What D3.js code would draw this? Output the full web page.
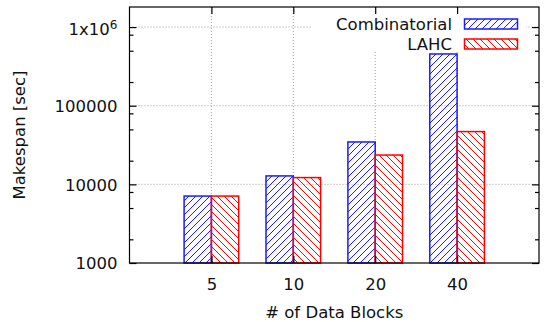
<!DOCTYPE html>
<html>
<head>
<meta charset="utf-8">
<script src="https://cdn.jsdelivr.net/npm/d3@7"></script>
<style>
body{margin:0;background:#fff}
text{font-family:"DejaVu Sans",sans-serif}
</style>
</head>
<body>
<script>
var blocks=["5","10","20","40"]
var combinatorial=[7100,12800,34600,455000]
var lahc=[7100,12200,23600,46900]
var seriesNames=["Combinatorial","LAHC"]
var yTicks=[1000,10000,100000,1000000]
var yLabels=["1000","10000","100000","1x10"]
var yMinor=[2000,5000,8000,20000,50000,80000,200000,500000,800000]

var drawChart=function(){
  var screen={width:544,height:322}
  var plot={left:129.5,right:539,top:7,bottom:263}
  var fontSize=16.5

  var svg=d3.select("body").append("svg")
    .attr('width',screen.width)
    .attr('height',screen.height)

  var xScale=d3.scaleLinear()
    .domain([-1,blocks.length])
    .range([plot.left,plot.right])
  var yScale=d3.scaleLog()
    .domain([1000,1.8e6])
    .range([plot.bottom,plot.top])

  // hatch patterns like gnuplot fill pattern
  var defs=svg.append("defs")
  var colors=["#1a1aff","#ff0000"]
  var paths=["M0,7 L7,0 M-1,1 L1,-1 M6,8 L8,6","M0,0 L7,7 M-1,6 L1,8 M6,-1 L8,1"]
  colors.forEach(function(c,i){
    defs.append("pattern")
      .attr('id','hatch'+i)
      .attr('patternUnits','userSpaceOnUse')
      .attr('width',7).attr('height',7)
      .append("path")
      .attr('d',paths[i])
      .style('stroke',c)
      .style('stroke-width',1)
      .style('fill','none')
  })

  // grid
  var grid=svg.append("g")
  grid.selectAll("line.h").data(yTicks.slice(1)).enter().append("line")
    .attr('x1',plot.left).attr('x2',plot.right)
    .attr('y1',function(d){return yScale(d)})
    .attr('y2',function(d){return yScale(d)})
  grid.selectAll("line.v").data(blocks).enter().append("line")
    .attr('x1',function(d,i){return xScale(i)})
    .attr('x2',function(d,i){return xScale(i)})
    .attr('y1',plot.top).attr('y2',plot.bottom)
  grid.selectAll("line")
    .style('stroke','#a0a0a0')
    .style('stroke-width',1)
    .style('stroke-dasharray','1,2')

  // bars
  var series=[combinatorial,lahc]
  series.forEach(function(vals,s){
    svg.append("g").selectAll("rect").data(vals).enter().append("rect")
      .attr('x',function(d,i){return xScale(i-1/3+s/3)})
      .attr('y',function(d){return yScale(d)})
      .attr('width',function(d,i){return xScale(i+s/3)-xScale(i-1/3+s/3)})
      .attr('height',function(d){return yScale(1000)-yScale(d)})
      .style('fill','url(#hatch'+s+')')
      .style('stroke',colors[s])
      .style('stroke-width',1.5)
  })

  // legend (opaque key)
  var key=svg.append("g")
  key.append("rect")
    .attr('x',312).attr('y',8).attr('width',214).attr('height',44)
    .style('fill','#fff')
  seriesNames.forEach(function(name,s){
    var cy=24+s*20
    key.append("text")
      .attr('x',452).attr('y',cy).attr('dy','0.36em')
      .attr('text-anchor','end')
      .style('font-size',fontSize+'px')
      .style('fill','#111')
      .text(name)
    key.append("rect")
      .attr('x',464.5).attr('y',cy-5).attr('width',53).attr('height',10)
      .style('fill','url(#hatch'+s+')')
      .style('stroke',colors[s])
      .style('stroke-width',1.5)
  })

  // axes
  var left=svg.append("g").attr('transform','translate('+plot.left+',0)')
    .call(d3.axisLeft(yScale).tickValues(yTicks).tickSizeInner(-7).tickSizeOuter(0).tickPadding(12)
      .tickFormat(function(d,i){return yLabels[i]}))
  svg.append("g").attr('transform','translate('+plot.left+',0)')
    .call(d3.axisLeft(yScale).tickValues(yMinor).tickSizeInner(-4).tickSizeOuter(0).tickFormat(""))
  svg.append("g").attr('transform','translate('+plot.right+',0)')
    .call(d3.axisRight(yScale).tickValues(yTicks).tickSizeInner(-7).tickSizeOuter(0).tickFormat(""))
  svg.append("g").attr('transform','translate('+plot.right+',0)')
    .call(d3.axisRight(yScale).tickValues(yMinor).tickSizeInner(-4).tickSizeOuter(0).tickFormat(""))
  var bottom=svg.append("g").attr('transform','translate(0,'+plot.bottom+')')
    .call(d3.axisBottom(xScale).tickValues(d3.range(blocks.length)).tickSizeInner(-7).tickSizeOuter(0).tickPadding(15)
      .tickFormat(function(d){return blocks[d]}))
  svg.append("g").attr('transform','translate(0,'+plot.top+')')
    .call(d3.axisTop(xScale).tickValues(d3.range(blocks.length)).tickSizeInner(-7).tickSizeOuter(0).tickFormat(""))

  svg.selectAll(".domain").remove()
  svg.selectAll(".tick line").style('stroke','#000').style('stroke-width',1.2)
  svg.selectAll(".tick text")
    .style('font-size',fontSize+'px')
    .style('font-family','"DejaVu Sans",sans-serif')
    .style('fill','#111')
  left.selectAll(".tick text").attr('dy','0.36em')
  left.selectAll(".tick text").filter(function(d){return d==1000000})
    .attr('dy','0.44em')
    .append("tspan")
    .attr('dy','-0.5em')
    .style('font-size','12px')
    .text("6")

  svg.append("rect")
    .attr('x',plot.left).attr('y',plot.top)
    .attr('width',plot.right-plot.left).attr('height',plot.bottom-plot.top)
    .style('fill','none')
    .style('stroke','#000')
    .style('stroke-width',1.2)

  // axis titles
  svg.append("text")
    .attr('x',(plot.left+plot.right)/2).attr('y',317.5)
    .attr('text-anchor','middle')
    .style('font-size',fontSize+'px')
    .style('fill','#111')
    .text("# of Data Blocks")
  svg.append("text")
    .attr('transform','translate(25,135) rotate(-90)')
    .attr('text-anchor','middle')
    .style('font-size',fontSize+'px')
    .style('fill','#111')
    .text("Makespan [sec]")
}

drawChart()
</script>
</body>
</html>
